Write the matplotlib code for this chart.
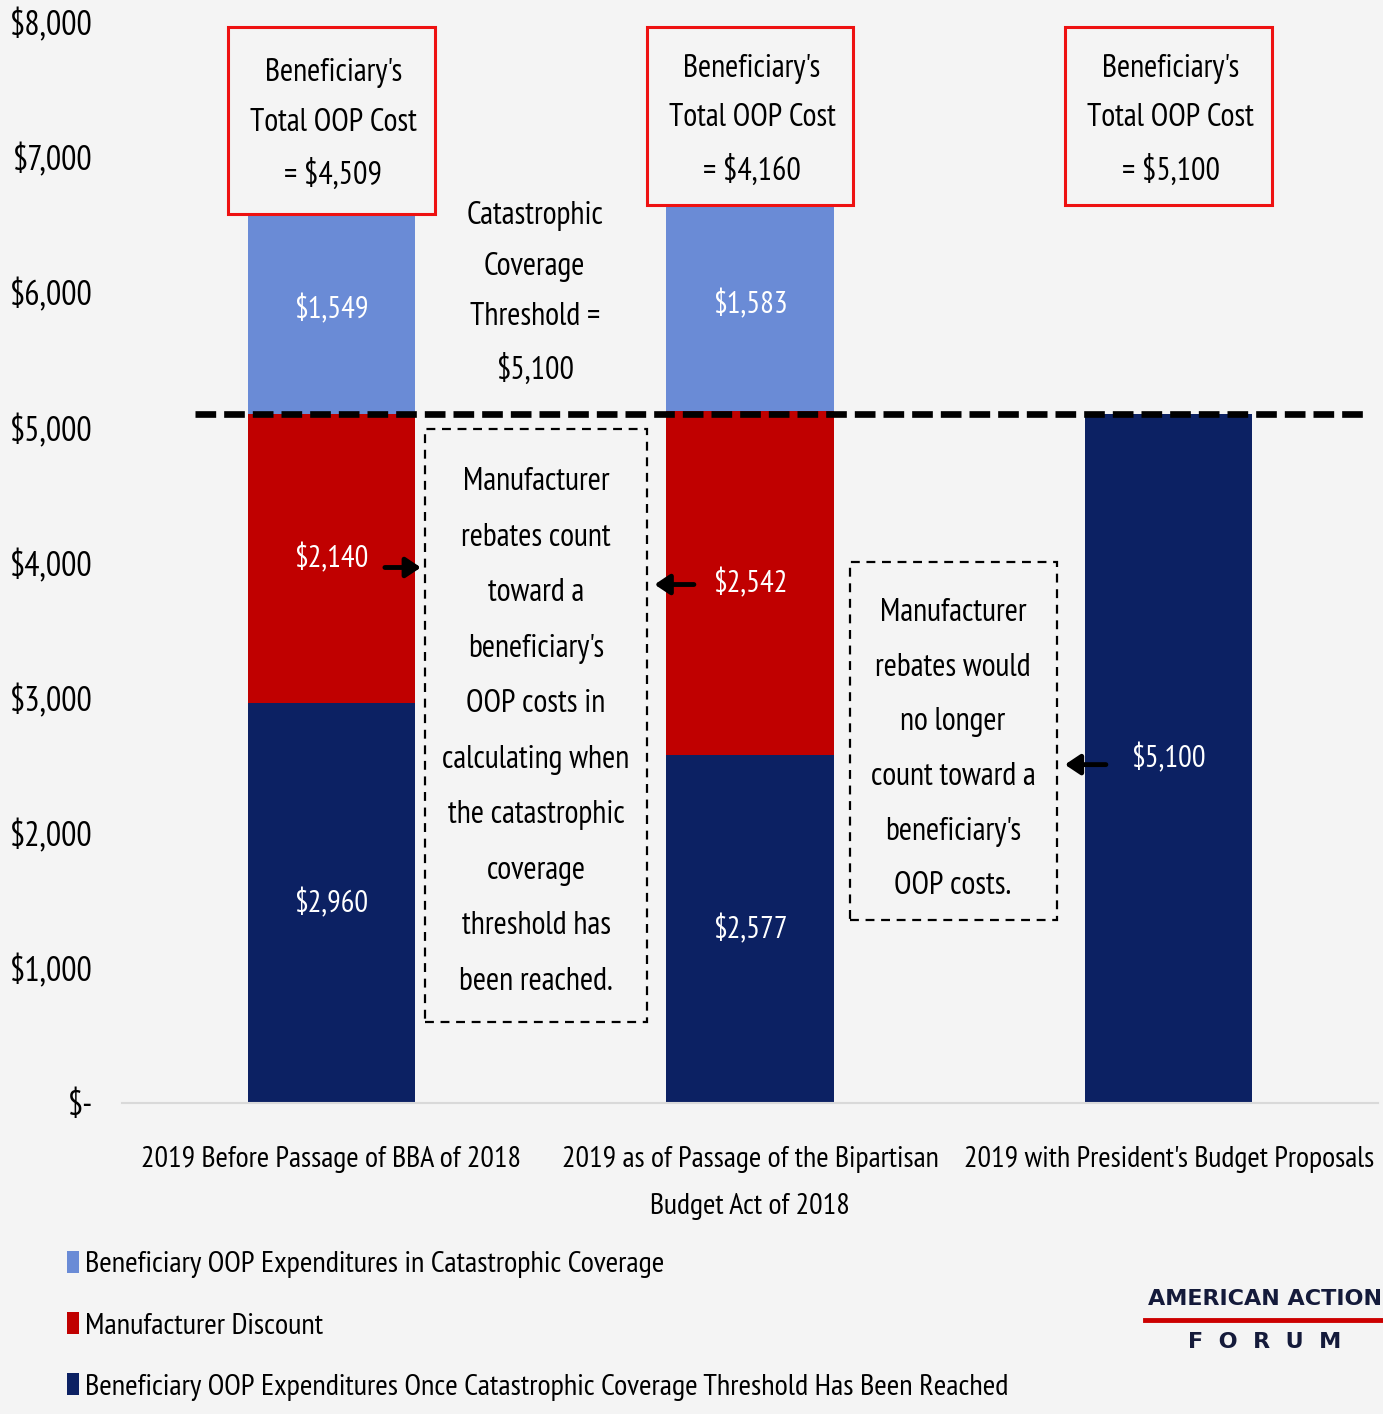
import matplotlib
matplotlib.use("Agg")
import matplotlib.pyplot as plt
from matplotlib.patches import Rectangle
from matplotlib.lines import Line2D
import numpy as np

plt.rcParams['font.family'] = ['PT Sans Narrow', 'DejaVu Sans']

categories = ["2019 Before Passage of BBA of 2018",
              "2019 as of Passage of the Bipartisan\nBudget Act of 2018",
              "2019 with President's Budget Proposals"]
series_names = ["Beneficiary OOP Expenditures in Catastrophic Coverage",
                "Manufacturer Discount",
                "Beneficiary OOP Expenditures Once Catastrophic Coverage Threshold Has Been Reached"]
oop_reached = [2960, 2577, 5100]
manufacturer_discount = [2140, 2542, 0]
oop_catastrophic = [1549, 1583, 0]
total_oop_labels = ["$4,509", "$4,160", "$5,100"]
threshold = 5100
yticks = [0, 1000, 2000, 3000, 4000, 5000, 6000, 7000, 8000]
ytick_labels = ["$-", "$1,000", "$2,000", "$3,000", "$4,000", "$5,000", "$6,000", "$7,000", "$8,000"]

c_light = "#6a8bd6"
c_red = "#c00000"
c_navy = "#0c2163"
bg = "#f4f4f4"

fig = plt.figure(figsize=(13.83, 14.14), dpi=100, facecolor=bg)
ax = fig.add_axes([0.0882, 0.22, 0.9082, 0.7644], facecolor=bg)

x = np.arange(len(categories))
w = 0.4
b1 = ax.bar(x, oop_reached, w, color=c_navy, label=series_names[2])
b2 = ax.bar(x, manufacturer_discount, w, bottom=oop_reached, color=c_red, label=series_names[1])
bottom3 = np.array(oop_reached) + np.array(manufacturer_discount)
b3 = ax.bar(x, oop_catastrophic, w, bottom=bottom3, color=c_light, label=series_names[0])

fs = 23
# segment labels
for i in range(len(categories)):
    segs = [(oop_reached[i], 0), (manufacturer_discount[i], oop_reached[i]),
            (oop_catastrophic[i], bottom3[i])]
    for v, b in segs:
        if v > 0:
            ax.text(x[i], b + v / 2, f"${v:,}", ha="center", va="center",
                    color="white", fontsize=22, parse_math=False)

ax.set_xlim(-0.5, 2.5)
ax.set_ylim(0, 8000)
ax.set_yticks(yticks)
ax.set_yticklabels(ytick_labels, fontsize=24.5)
ax.set_xticks(x)
ax.set_xticklabels(categories, fontsize=21.6, linespacing=1.95)
ax.tick_params(axis="y", length=0, pad=21)
ax.tick_params(axis="x", length=0, pad=31)
for s in ["left", "right", "top"]:
    ax.spines[s].set_visible(False)
ax.spines["bottom"].set_color("#d9d9d9")
ax.spines["bottom"].set_linewidth(1.5)

# threshold dashed line
ax.plot([-0.326, 2.469], [threshold, threshold], color="black", lw=4.8,
        linestyle=(0, (3.1, 1.2)), zorder=5)

# red total boxes
box_tops = [7963, 7963, 7963]
box_bots = [6578, 6644, 6644]
for i in range(3):
    ax.add_patch(Rectangle((x[i] - 0.247, box_bots[i]), 0.494, box_tops[i] - box_bots[i],
                           fill=True, facecolor=bg, edgecolor="#ee1111", lw=2.2, zorder=6))
    ax.text(x[i] + 0.005, (box_tops[i] + box_bots[i]) / 2 - 30,
            f"Beneficiary's\nTotal OOP Cost\n= {total_oop_labels[i]}",
            ha="center", va="center", fontsize=fs, linespacing=1.85, zorder=7, parse_math=False)

# catastrophic threshold text
ax.text(0.486, 5990, "Catastrophic\nCoverage\nThreshold =\n$5,100", ha="center", va="center",
        fontsize=fs, linespacing=1.88, parse_math=False)

# dashed text boxes
ax.add_patch(Rectangle((0.224, 600), 0.53, 4385, fill=False, edgecolor="black", lw=1.6,
                       linestyle=(0, (4, 3))))
ax.text(0.489, 2745, "Manufacturer\nrebates count\ntoward a\nbeneficiary's\nOOP costs in\ncalculating when\nthe catastrophic\ncoverage\nthreshold has\nbeen reached.",
        ha="center", va="center", fontsize=fs, linespacing=2.11)
ax.add_patch(Rectangle((1.239, 1356), 0.494, 2644, fill=False, edgecolor="black", lw=1.6,
                       linestyle=(0, (4, 3))))
ax.text(1.485, 2614, "Manufacturer\nrebates would\nno longer\ncount toward a\nbeneficiary's\nOOP costs.",
        ha="center", va="center", fontsize=fs, linespacing=2.07)

# arrows
arrows = [((0.128, 3963), (0.214, 3963)), ((0.866, 3837), (0.772, 3837)), ((1.85, 2504), (1.752, 2504))]
for (x0, y0), (x1, y1) in arrows:
    ax.annotate("", xy=(x1, y1), xytext=(x0, y0),
                arrowprops=dict(arrowstyle="-|>,head_length=0.45,head_width=0.3", color="black",
                                lw=3.5, mutation_scale=20, shrinkA=0, shrinkB=0))

# legend
leg = fig.legend(handles=[b3, b2, b1], labels=series_names, loc="upper left",
                 bbox_to_anchor=(0.0483, 0.1155), frameon=False, fontsize=21.9,
                 handlelength=0.4, handleheight=0.75, handletextpad=0.2, labelspacing=1.1,
                 borderaxespad=0, borderpad=0)

# logo
fig.text(0.9145, 0.0815, "AMERICAN ACTION", ha="center", va="center", fontsize=16,
         fontweight="bold", color="#141a3a", family="DejaVu Sans")
fig.add_artist(Line2D([0.828, 0.999], [0.0665, 0.0665], color="#cc0000", lw=3.5))
fig.text(0.9145, 0.051, "F  O  R  U  M", ha="center", va="center", fontsize=16,
         fontweight="bold", color="#141a3a", family="DejaVu Sans")

fig.savefig("out.png", dpi=100, facecolor=bg)
